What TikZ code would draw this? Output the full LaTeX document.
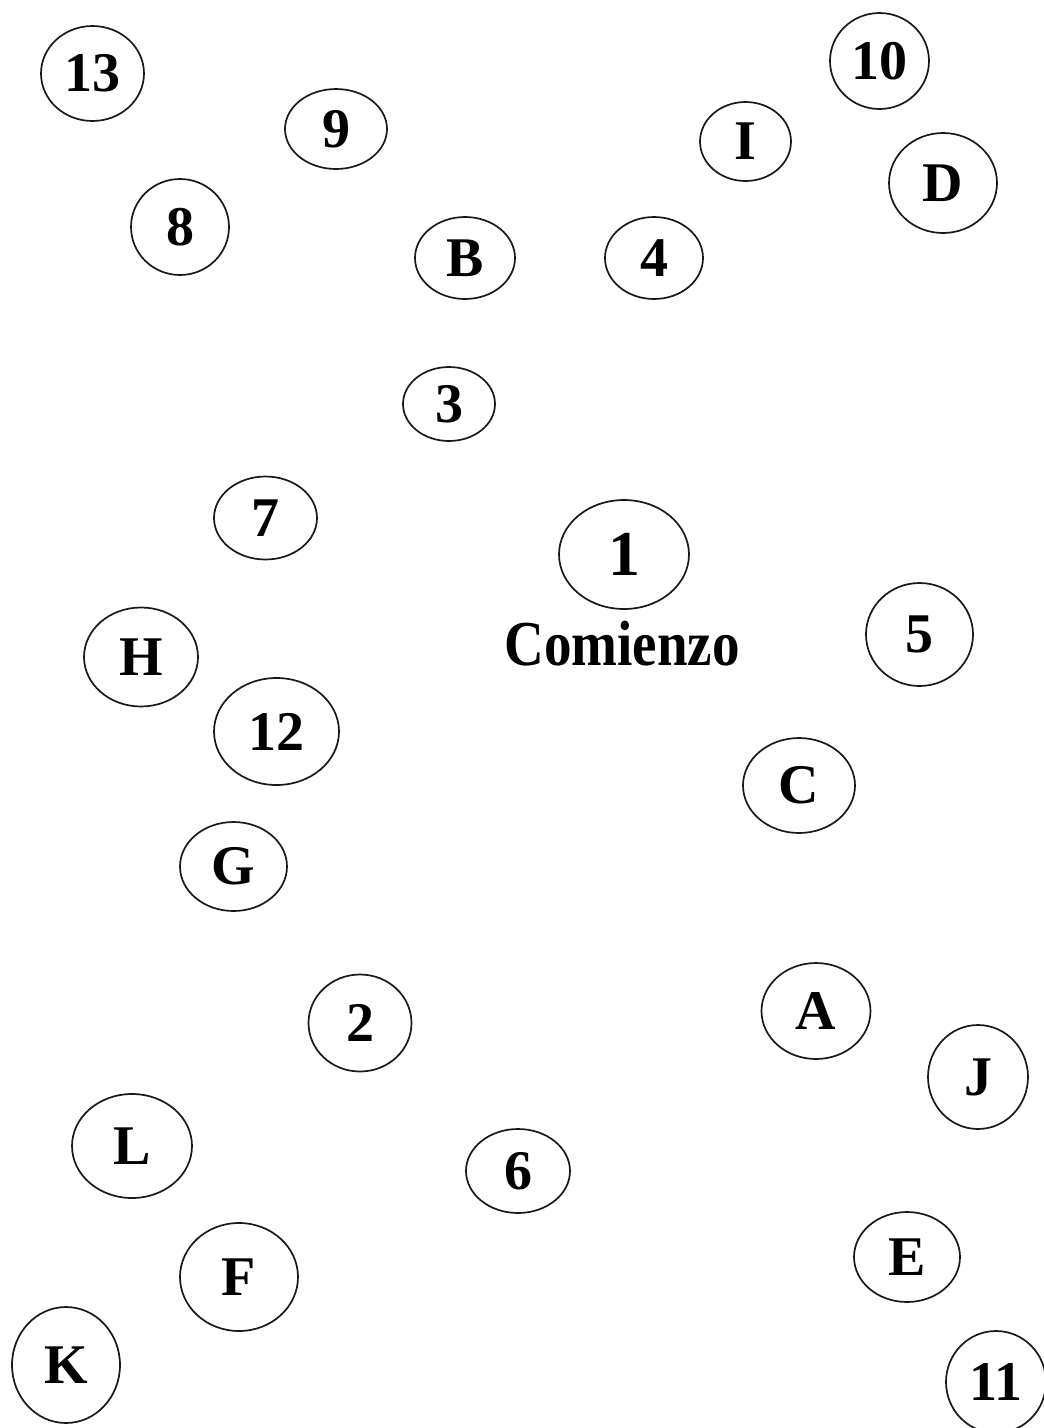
\documentclass[tikz,border=0pt]{standalone}
\usepackage{fontspec}
\setmainfont{Liberation Serif}
\usetikzlibrary{shapes.geometric}
\tikzset{
  bub/.style={draw=black!90, ellipse, line width=1.7pt, inner sep=0pt,
    font=\fontsize{56}{60}\selectfont\bfseries},
  bigbub/.style={bub, font=\fontsize{64}{70}\selectfont\bfseries},
  caption/.style={inner sep=0pt, anchor=base, font=\fontsize{64}{70}\selectfont\bfseries}
}
\begin{document}
\begin{tikzpicture}[x=1pt, y=-1pt]
\clip (0,0) rectangle (1044,1428);
\fill[white] (0,0) rectangle (1044,1428);
\node[bub, minimum width=103pt, minimum height=95pt] (n13) at (92.5,73.5) {13};
\node[bub, minimum width=102pt, minimum height=80pt] (n9) at (336,129) {9};
\node[bub, minimum width=98pt, minimum height=96pt] (n8) at (180,227) {8};
\node[bub, minimum width=100pt, minimum height=82pt] (nB) at (465,258) {B};
\node[bub, minimum width=98pt, minimum height=82pt] (n4) at (654,258) {4};
\node[bub, minimum width=91pt, minimum height=79pt] (nI) at (745.5,141.5) {I};
\node[bub, minimum width=99pt, minimum height=96pt] (n10) at (879.5,61) {10};
\node[bub, minimum width=108pt, minimum height=100pt] (nD) at (943,183) {D};
\node[bub, minimum width=92pt, minimum height=74pt] (n3) at (449,404) {3};
\node[bub, minimum width=103pt, minimum height=83pt] (n7) at (265.5,518) {7};
\node[bigbub, minimum width=130pt, minimum height=109pt] (n1) at (624,554.5) {1};
\node[caption] (start) at (622,665) {\scalebox{0.86}[1]{Comienzo}};
\node[bub, minimum width=107pt, minimum height=103pt] (n5) at (919.5,634.5) {5};
\node[bub, minimum width=114pt, minimum height=99pt] (nH) at (141,657) {H};
\node[bub, minimum width=125pt, minimum height=107pt] (n12) at (276.5,731.5) {12};
\node[bub, minimum width=112pt, minimum height=95pt] (nC) at (799,785.5) {C};
\node[bub, minimum width=107pt, minimum height=89pt] (nG) at (233.5,866.5) {G};
\node[bub, minimum width=109pt, minimum height=96pt] (nA) at (816,1011) {A};
\node[bub, minimum width=103pt, minimum height=97pt] (n2) at (360,1023) {2};
\node[bub, minimum width=100pt, minimum height=104pt] (nJ) at (978,1077) {J};
\node[bub, minimum width=120pt, minimum height=104pt] (nL) at (132,1146) {L};
\node[bub, minimum width=104pt, minimum height=84pt] (n6) at (518,1171) {6};
\node[bub, minimum width=106pt, minimum height=90pt] (nE) at (907,1257) {E};
\node[bub, minimum width=118pt, minimum height=108pt] (nF) at (239,1277) {F};
\node[bub, minimum width=108pt, minimum height=116pt] (nK) at (66,1365) {K};
\node[bub, minimum width=100pt, minimum height=102pt] (n11) at (996,1382) {11};
\end{tikzpicture}
\end{document}
